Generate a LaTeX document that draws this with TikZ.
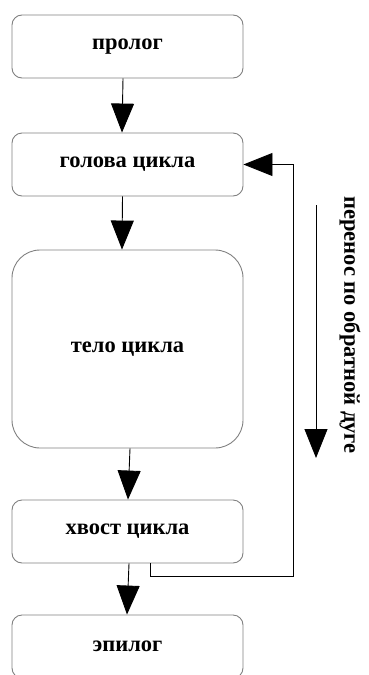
\documentclass[tikz,border=0pt]{standalone}
\usepackage{fontspec}
\setmainfont{Liberation Serif}
\usetikzlibrary{arrows.meta}
\begin{document}
\begin{tikzpicture}[x=1pt,y=-1pt,
  txt/.style={font=\bfseries\fontsize{22.5}{26}\selectfont},
  blk/.style={txt, draw=black!50, line width=0.9pt, rounded corners=10pt, minimum width=231pt, minimum height=63pt, inner sep=0pt},
  arr/.style={draw=black, line width=0.9pt, -{Triangle[length=29pt,width=23pt]}}]
\useasboundingbox (0,0) rectangle (368,675);
\node[blk] (pro) at (127.5,46.5) {пролог};
\node[blk] (head) at (127.5,164.5) {голова цикла};
\node[blk, minimum height=198pt, rounded corners=28pt] (body) at (127.5,349) {тело цикла};
\node[blk] (tail) at (127.5,531.5) {хвост цикла};
\node[blk] (epi) at (127.5,646.5) {эпилог};
\draw[arr] ([xshift=-4.5pt]pro.south) -- ([xshift=-5.5pt]head.north);
\draw[arr] ([xshift=-5pt]head.south) -- ([xshift=-5.5pt]body.north);
\draw[arr] ([xshift=2.5pt]body.south) -- ([xshift=0.5pt]tail.north);
\draw[arr] ([xshift=1.5pt]tail.south) -- ([xshift=-0.5pt]epi.north);
\coordinate (r) at (293,576);
\draw[arr] ([xshift=22.5pt]tail.south) |- (r) |- (head.east);
\coordinate (a1) at (316,205);
\coordinate (a2) at (316,458);
\draw[arr] (a1) -- (a2);
\node[txt, rotate=-90] (lbl) at (350,325) {перенос по обратной дуге};
\end{tikzpicture}
\end{document}
